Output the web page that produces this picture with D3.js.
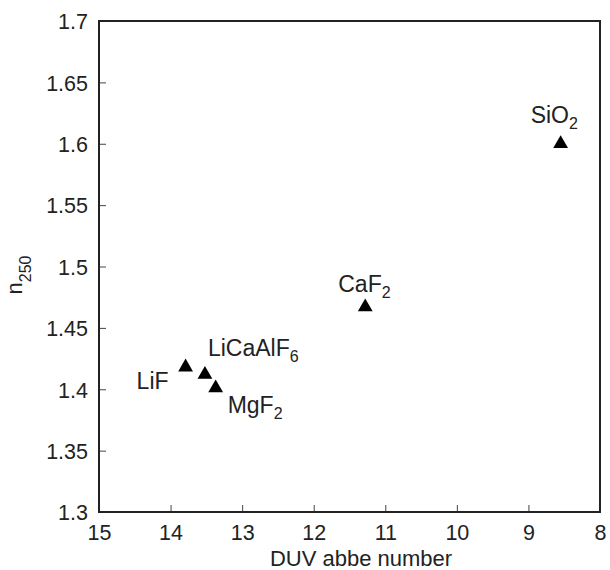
<!DOCTYPE html>
<html>
<head>
<meta charset="utf-8">
<script src="https://cdn.jsdelivr.net/npm/d3@7"></script>
<style>
	body { margin: 0; background: #fff; }
	text { font-family: "Liberation Sans", Arial, sans-serif; fill: #222; }
</style>
</head>
<body>
<svg class="chart" width="610" height="570"></svg>
<script>
// data
const materials = ['SiO2', 'CaF2', 'LiF', 'LiCaAlF6', 'MgF2'];
const abbe = [8.55, 11.28, 13.79, 13.52, 13.37];
const n250 = [1.600, 1.467, 1.418, 1.412, 1.401];
const xTicks = [15, 14, 13, 12, 11, 10, 9, 8];
const yTicks = [1.3, 1.35, 1.4, 1.45, 1.5, 1.55, 1.6, 1.65, 1.7];

// margin conventions
const margin = { top: 21, right: 10, bottom: 58, left: 99 };
const width = 610 - margin.left - margin.right;
const height = 570 - margin.top - margin.bottom;

const x = d3.scaleLinear().domain([15, 8]).range([0, width]);
const y = d3.scaleLinear().domain([1.3, 1.7]).range([height, 0]);

const svg = d3.select('.chart');
const g = svg.append('g').attr('transform', 'translate(' + margin.left + ',' + margin.top + ')');

// x axis, ticks point inward
const xAxis = g.append('g')
	.attr('transform', 'translate(0,' + height + ')')
	.call(d3.axisBottom(x).tickValues(xTicks).tickSize(-7).tickSizeOuter(0).tickPadding(13)
		.tickFormat(d3.format('d')));

// y axis
const yAxis = g.append('g')
	.call(d3.axisLeft(y).tickValues(yTicks).tickSize(-7).tickSizeOuter(0).tickPadding(11)
		.tickFormat(d => String(+d.toFixed(2))));

[xAxis, yAxis].forEach(a => {
	a.select('.domain').remove();
	a.selectAll('.tick line').attr('stroke', '#444').attr('stroke-width', 1);
	a.selectAll('.tick text').style('font-size', '21.5px').attr('fill', '#222');
});
yAxis.selectAll('.tick text').attr('dy', '0.36em');

// frame
g.append('rect')
	.attr('width', width)
	.attr('height', height)
	.attr('fill', 'none')
	.attr('stroke', '#222')
	.attr('stroke-width', 2);

// points
const points = materials.map((m, i) => ({ name: m, x: abbe[i], y: n250[i] }));

g.selectAll('.pt')
	.data(points)
	.enter()
	.append('path')
	.attr('class', 'pt')
	.attr('d', d3.symbol(d3.symbolTriangle, 95))
	.attr('transform', d => 'translate(' + x(d.x) + ',' + y(d.y) + ')')
	.attr('fill', '#000');

// label offsets in px from each point
const offsets = {
	SiO2: [-30, -21],
	CaF2: [-27, -15],
	LiF: [-49, 22],
	LiCaAlF6: [3, -19],
	MgF2: [12, 25]
};

const labels = g.selectAll('.lbl')
	.data(points)
	.enter()
	.append('text')
	.attr('class', 'lbl')
	.attr('x', d => x(d.x) + offsets[d.name][0])
	.attr('y', d => y(d.y) + offsets[d.name][1])
	.style('font-size', '23px');

labels.each(function(d) {
	const t = d3.select(this);
	const m = d.name.match(/^(.*?)(\d+)$/);
	if (m) {
		t.append('tspan').text(m[1]);
		t.append('tspan').text(m[2]).attr('dy', 6).style('font-size', '16px');
	} else {
		t.text(d.name);
	}
});

// axis titles
svg.append('text')
	.attr('x', 361)
	.attr('y', 566)
	.attr('text-anchor', 'middle')
	.style('font-size', '22px')
	.text('DUV abbe number');

const yTitle = svg.append('text')
	.attr('transform', 'translate(22,275) rotate(-90)')
	.attr('text-anchor', 'middle')
	.style('font-size', '22px');
yTitle.append('tspan').text('n');
yTitle.append('tspan').text('250').attr('dy', 9).style('font-size', '16px');
</script>
</body>
</html>
